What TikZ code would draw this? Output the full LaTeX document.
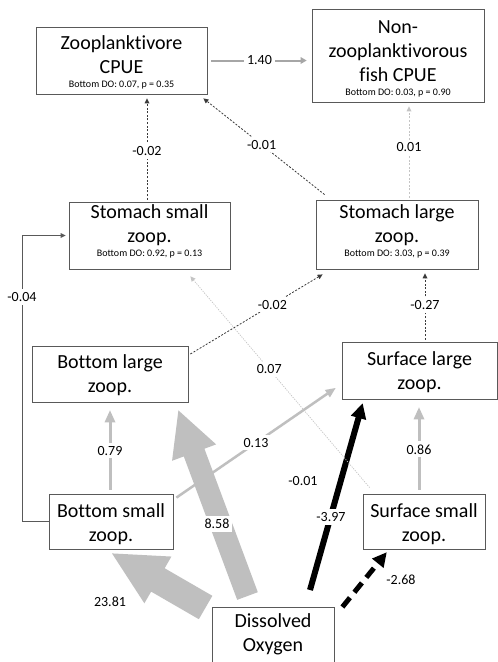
\documentclass[tikz,border=0pt]{standalone}
\usepackage{fontspec}
\setmainfont{Carlito}[Ligatures=NoCommon]
\usetikzlibrary{arrows.meta,calc}
\definecolor{boxline}{HTML}{595959}
\definecolor{lgray}{HTML}{BFBFBF}
\definecolor{mgray}{HTML}{A6A6A6}
\definecolor{pgray}{HTML}{C4C4C4}
\definecolor{dline}{HTML}{3A3A3A}
\newcommand\smalltxt[1]{{\fontsize{10}{12}\selectfont #1}}
\newcommand\blockarrow[6]{%
  \coordinate (ba-b) at ($(#3)!#6!(#2)$);
  \fill[#1] ($(#2)!#4!90:(#3)$) -- ($(ba-b)!#4!90:(#3)$) -- ($(ba-b)!#5!90:(#3)$) -- (#3)
    -- ($(ba-b)!#5!-90:(#3)$) -- ($(ba-b)!#4!-90:(#3)$) -- ($(#2)!#4!-90:(#3)$) -- cycle;}
\begin{document}
\begin{tikzpicture}[x=1pt,y=-1pt,
  box/.style={draw=boxline,line width=0.8pt,fill=white,inner sep=0pt},
  txt/.style={align=center,inner sep=0pt,font=\fontsize{20}{24}\selectfont},
  lab/.style={fill=white,inner sep=3pt,font=\fontsize{14}{16}\selectfont},
  tipS/.style={-{Triangle[width=5pt,length=5pt,line width=0pt 0 0]}},
  dk/.style={draw=dline,line width=0.8pt,dash pattern=on 2pt off 1.6pt,tipS},
  lgdash/.style={draw=pgray,line width=0.8pt,dash pattern=on 2pt off 1.6pt,tipS},
  lgdot/.style={draw=pgray,line width=0.7pt,dash pattern=on 1.2pt off 1.2pt,tipS},
  elb/.style={draw=boxline,line width=0.8pt,tipS},
  gthin/.style={draw=mgray,line width=2pt,-{Triangle[width=7pt,length=6pt,line width=0pt 0 0]}},
  gthick/.style={draw=lgray,line width=3pt,-{Triangle[width=11pt,length=12pt,line width=0pt 0 0]}},
  gmid/.style={draw=lgray,line width=2.5pt,-{Triangle[width=9pt,length=10pt,line width=0pt 0 0]}},
  bkdash/.style={draw=black,line width=5pt,dash pattern=on 12pt off 7pt,-{Triangle[width=15pt,length=14pt,line width=0pt 0 0]}}
]
\useasboundingbox (0,0) rectangle (498,662);
\fill[white] (0,0) rectangle (498,662);
\clip (0,0) rectangle (498,662);

% boxes
\node[box,minimum width=171pt,minimum height=67pt] (zp) at (121.5,60.5) {};
\node[txt] (zpT) at (121.5,62) {Zooplanktivore\\CPUE\\[-10pt]\smalltxt{Bottom DO: 0.07, p = 0.35}};
\node[box,minimum width=172pt,minimum height=93pt] (nz) at (398,55.5) {};
\node[txt] (nzT) at (398,59) {Non-\\zooplanktivorous\\fish CPUE\\[-10pt]\smalltxt{Bottom DO: 0.03, p = 0.90}};
\node[box,minimum width=161pt,minimum height=67pt] (ss) at (149.5,235.5) {};
\node[txt] (ssT) at (149.5,231) {Stomach small\\zoop.\\[-10pt]\smalltxt{Bottom DO: 0.92, p = 0.13}};
\node[box,minimum width=162pt,minimum height=69pt] (sl) at (397,234.5) {};
\node[txt] (slT) at (397,231) {Stomach large\\zoop.\\[-10pt]\smalltxt{Bottom DO: 3.03, p = 0.39}};
\node[box,minimum width=156pt,minimum height=56pt] (bl) at (110,374) {};
\node[txt] (blT) at (110,375) {Bottom large\\zoop.};
\node[box,minimum width=155pt,minimum height=57pt] (su) at (419.5,370.5) {};
\node[txt] (suT) at (419.5,372) {Surface large\\zoop.};
\node[box,minimum width=124pt,minimum height=55pt] (bs) at (111,521.5) {};
\node[txt] (bsT) at (111,524) {Bottom small\\zoop.};
\node[box,minimum width=122pt,minimum height=55pt] (sm) at (424,521.5) {};
\node[txt] (smT) at (424,524) {Surface small\\zoop.};
\node[box,minimum width=122pt,minimum height=75pt,anchor=north] (do) at (273,607) {};
\node[txt] (doT) at (273,634) {Dissolved\\Oxygen};

% helper coordinates
\coordinate (c22) at (22,0);
\coordinate (c110) at (110,0);
\coordinate (c147) at (147,0);
\coordinate (c409) at (409,0);
\coordinate (c419) at (419,0);
\coordinate (c425) at (425,0);

% big arrows from dissolved oxygen
\coordinate (s2381) at ($(do.north west)+(-6,0.5)$);
\coordinate (t2381) at ($(bs.south)+(1,4)$);
\blockarrow{lgray}{s2381}{t2381}{13.5pt}{27pt}{53pt}
\coordinate (s858) at ($(do.north)+(-25.5,-11)$);
\coordinate (t858) at ($(bl.south east)+(-10,8)$);
\blockarrow{lgray}{s858}{t858}{11pt}{23.5pt}{45pt}
\coordinate (s397) at ($(do.north)+(37,-17)$);
\coordinate (t397) at ($(su.south west)+(21,4)$);
\blockarrow{black}{s397}{t397}{3pt}{8pt}{15pt}
\draw[bkdash] ($(do.north east)+(8,0)$) -- ($(sm.south west)+(24,3)$);

% gray paths
\draw[gthin,shorten <=4pt,shorten >=5pt] (zp.east) -- (nz.west |- zp.east) node[lab,midway] (l140) {1.40};
\draw[gthick,shorten <=4pt,shorten >=8pt] (bs.north -| c110) -- (bl.south -| c110) node[lab,pos=0.47] (l079) {0.79};
\draw[gthick,shorten <=4pt,shorten >=8pt] (sm.north -| c419) -- (su.south -| c419) node[lab,pos=0.47] (l086) {0.86};
\draw[gmid] ($(bs.north east)+(3,4)$) -- ($(su.west)+(-6,17.5)$) node[lab,pos=0.5] (l013) {0.13};

% thin paths
\draw[dk,shorten <=2pt,shorten >=4pt] (ss.north -| c147) -- (zp.south -| c147) node[lab,pos=0.47] (l002a) {-0.02};
\draw[dk] ($(sl.north west)+(9,-5)$) -- ($(zp.south east)+(-4,4)$) node[lab,pos=0.52] (l001a) {-0.01};
\draw[lgdash,shorten <=2pt,shorten >=4pt] (sl.north -| c409) -- (nz.south -| c409) node[lab,pos=0.54] (l001b) {0.01};
\draw[elb,shorten >=3pt] (bs.west) -| (ss.west -| c22) -- (ss.west);
\node[lab] (l004) at (22,297) {-0.04};
\draw[lgdot] ($(sm.north west)+(7,-6)$) -- ($(ss.south east)+(-40,7)$) node[lab,pos=0.56] (l007) {0.07};
\draw[dk] ($(bl.east)+(2,-20)$) -- ($(sl.south west)+(7,5)$) node[lab,pos=0.62] (l002b) {-0.02};
\draw[dk,shorten <=2pt,shorten >=4pt] (su.north -| c425) -- (sl.south -| c425) node[lab,midway] (l027) {-0.27};

% free labels
\node[lab] (l2381) at (110,602) {23.81};
\node[lab] (l858) at (217,524) {8.58};
\node[lab] (l397) at (331,517) {-3.97};
\node[lab,fill=none] (l268) at (401,580) {-2.68};
\node[lab,fill=none] (l001c) at (303,481) {-0.01};
\end{tikzpicture}
\end{document}
